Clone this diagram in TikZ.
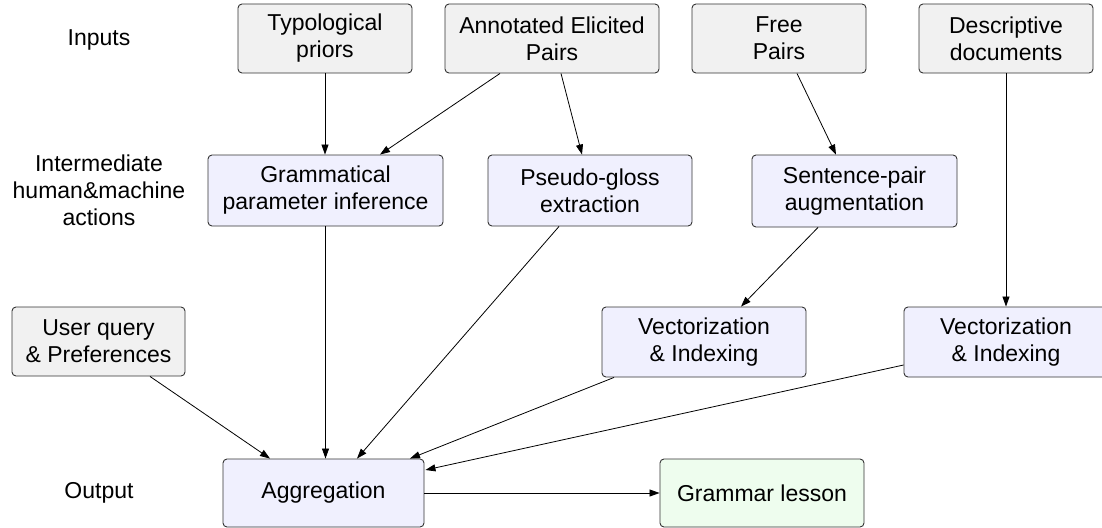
\documentclass[tikz,border=0pt]{standalone}
\usepackage{fontspec}
\setmainfont{Liberation Sans}
\usetikzlibrary{arrows.meta,calc}
\definecolor{ingray}{HTML}{F1F1F1}
\definecolor{actblue}{HTML}{F0F0FE}
\definecolor{outgreen}{HTML}{EEFDEE}
\definecolor{edgegray}{HTML}{333333}
\begin{document}
\begin{tikzpicture}[x=1pt,y=-1pt,
  font=\fontsize{23}{27}\selectfont,
  box/.style={draw=edgegray,line width=0.9pt,rounded corners=4pt,align=center,inner sep=0pt},
  inbox/.style={box,fill=ingray},
  actbox/.style={box,fill=actblue},
  outbox/.style={box,fill=outgreen},
  lab/.style={align=center,inner sep=0pt},
  conn/.style={draw=black,line width=0.8pt,-{Triangle[length=10pt,width=7pt]}}]
\useasboundingbox (0,0) rectangle (1102,527);
% row labels
\node[lab] (linputs) at (99,40) {Inputs};
\node[lab] (linter) at (99,190) {Intermediate\\human\&machine\\actions};
\node[lab] (loutput) at (99,493) {Output};
% inputs
\node[inbox,minimum width=174pt,minimum height=69pt] (typ) at (325,38.5) {Typological\\priors};
\node[inbox,minimum width=214pt,minimum height=69pt] (ann) at (552,38.5) {Annotated Elicited\\Pairs};
\node[inbox,minimum width=174pt,minimum height=69pt] (free) at (779,38.5) {Free\\Pairs};
\node[inbox,minimum width=174pt,minimum height=69pt] (desc) at (1006,38.5) {Descriptive\\documents};
% intermediate
\node[actbox,minimum width=235pt,minimum height=71pt] (gram) at (325.5,190.5) {Grammatical\\parameter inference};
\node[actbox,minimum width=204pt,minimum height=71pt] (pseudo) at (590,190.5) {Pseudo-gloss\\extraction};
\node[actbox,minimum width=205pt,minimum height=72pt] (sent) at (854.5,191) {Sentence-pair\\augmentation};
\node[inbox,minimum width=173pt,minimum height=69pt] (user) at (98.5,341.5) {User query\\\& Preferences};
\node[actbox,minimum width=204pt,minimum height=70pt] (vec1) at (704,342) {Vectorization\\\& Indexing};
\node[actbox,minimum width=204pt,minimum height=70pt] (vec2) at (1006,342) {Vectorization\\\& Indexing};
% output
\node[actbox,minimum width=201pt,minimum height=68pt] (agg) at (323.5,493) {Aggregation};
\node[outbox,minimum width=204pt,minimum height=68pt] (gl) at (762,493) {Grammar lesson};
% connectors
\draw[conn] (typ.south) -- (typ.south |- gram.north);
\draw[conn] ($(ann.south)+(-52,0)$) -- ($(gram.north)+(54.5,0)$);
\draw[conn] ($(ann.south)+(9,0)$) -- ($(pseudo.north)+(-8,0)$);
\draw[conn] ($(free.south)+(18,0)$) -- ($(sent.north)+(-18.5,0)$);
\draw[conn] (desc.south) -- (vec2.north);
\draw[conn] ($(sent.south)+(-36.5,0)$) -- ($(vec1.north)+(37,0)$);
\draw[conn] (gram.south) -- (gram.south |- agg.north);
\draw[conn] ($(pseudo.south)+(-31,0)$) -- ($(agg.north)+(33.5,0)$);
\draw[conn] ($(user.south)+(51.5,0)$) -- ($(agg.north)+(-53.5,0)$);
\draw[conn] ($(vec1.south)+(-90,0)$) -- ($(agg.north)+(86.5,0)$);
\draw[conn] ($(vec2.west)+(0,23)$) -- ($(agg.east)+(1,-23)$);
\draw[conn] (agg.east) -- (gl.west);
\end{tikzpicture}
\end{document}
